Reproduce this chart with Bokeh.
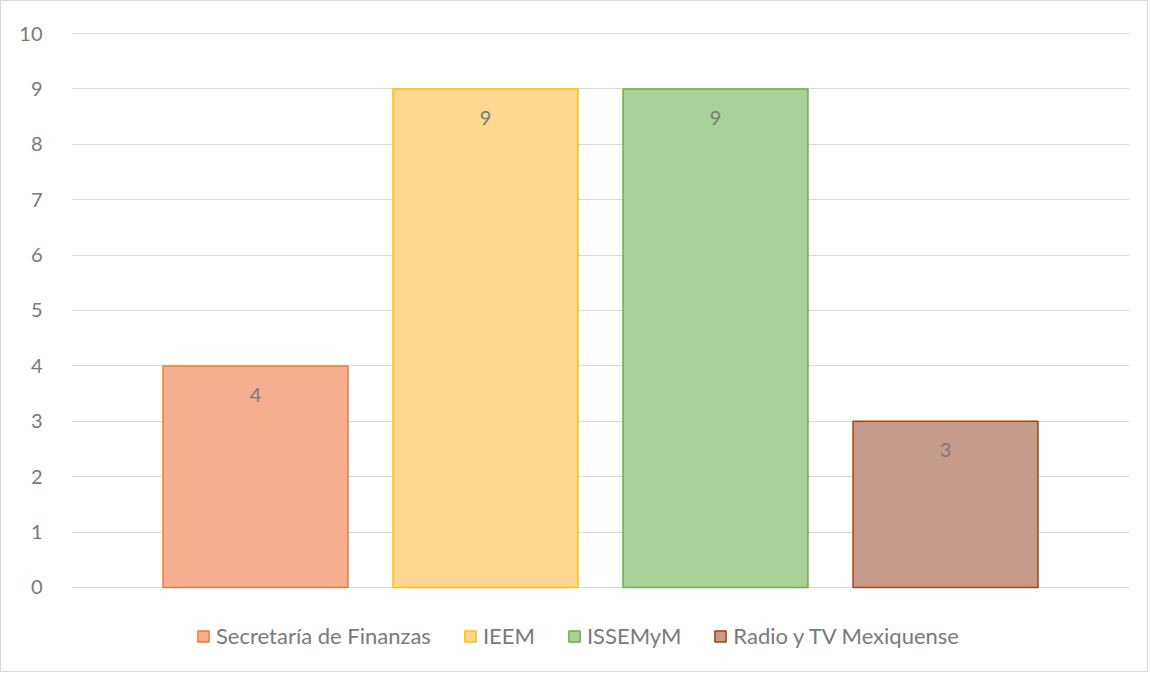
from bokeh.plotting import figure
from bokeh.models import ColumnDataSource, Range1d, Legend, LegendItem, FixedTicker
from bokeh.embed import file_html
from bokeh.resources import INLINE
from bokeh.core.properties import value

categories = ["Secretaría de Finanzas", "IEEM", "ISSEMyM", "Radio y TV Mexiquense"]
counts = [4, 9, 9, 3]
y_ticks = [0, 1, 2, 3, 4, 5, 6, 7, 8, 9, 10]
fill_colors = ["#f5af90", "#fed890", "#abd19a", "#c79a8e"]
line_colors = ["#ed7d31", "#ffc000", "#70ad47", "#9e480e"]

FONT = "Lato"
GRAY = "#7a7a7a"

p = figure(width=1148, height=672, output_backend="svg", toolbar_location=None,
           x_range=Range1d(-0.8, 3.8), y_range=Range1d(-1.555, 10.02),
           min_border_left=70, min_border_right=20, min_border_top=31,
           min_border_bottom=0)
p.outline_line_color = None
p.styles = {"border": "1px solid #d9d9d9"}

items = []
for i, (cat, v, fc, lc) in enumerate(zip(categories, counts, fill_colors, line_colors)):
    src = ColumnDataSource(dict(x=[i], top=[v], label=[str(v)]))
    r = p.vbar(x="x", top="top", bottom=0, width=0.804, source=src,
               fill_color=fc, line_color=lc, line_width=1.5)
    p.text(x="x", y="top", text="label", source=src, y_offset=29,
           text_align="center", text_baseline="middle",
           text_font=value(FONT), text_font_size="20px", text_color=GRAY)
    items.append(LegendItem(label=cat, renderers=[r]))

p.xaxis.visible = False
p.xgrid.visible = False
p.ygrid.ticker = FixedTicker(ticks=y_ticks)
p.ygrid.grid_line_color = "#d9d9d9"
p.ygrid.grid_line_width = 1
p.yaxis.ticker = FixedTicker(ticks=y_ticks)
p.yaxis.axis_line_color = None
p.yaxis.major_tick_line_color = None
p.yaxis.minor_tick_line_color = None
p.yaxis.major_label_standoff = 23
p.yaxis.major_label_text_font = FONT
p.yaxis.major_label_text_font_size = "20px"
p.yaxis.major_label_text_color = GRAY

legend = Legend(items=items, orientation="horizontal", location=(125, 24),
                border_line_color=None, background_fill_alpha=0,
                label_text_font=FONT, label_text_font_size="22px",
                label_text_color=GRAY, glyph_width=14, glyph_height=14,
                label_standoff=6, spacing=32, padding=6, margin=0)
p.add_layout(legend, "center")

open("out.html", "w").write(file_html(p, INLINE))
